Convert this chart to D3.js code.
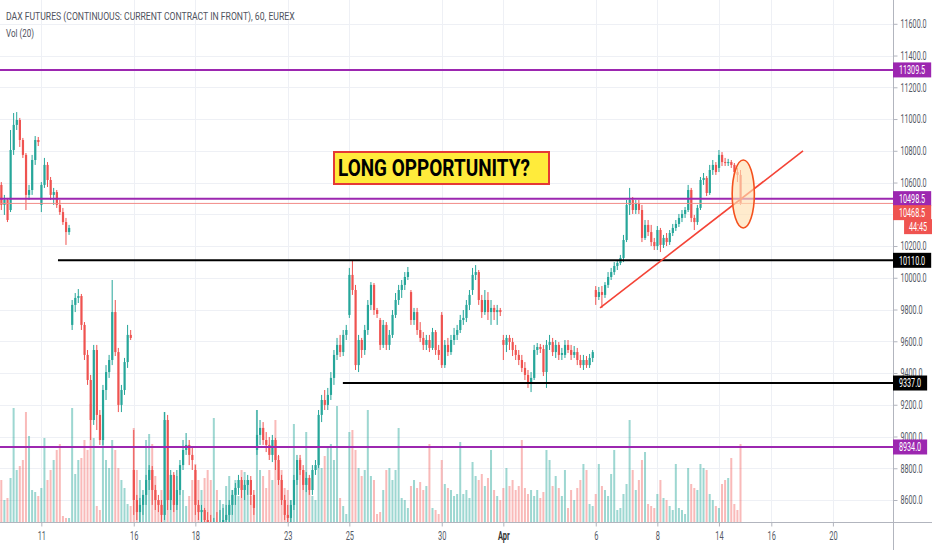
<!DOCTYPE html>
<html><head><meta charset="utf-8">
<script src="https://cdn.jsdelivr.net/npm/d3@7"></script>
<style>
body{margin:0;background:#fff;}
svg{display:block;}
text{font-family:Roboto,"Liberation Sans",Arial,sans-serif;}
</style></head>
<body><svg id="c" width="932" height="550"></svg>
<script>
// ---------- DATA (bars) ----------
const openP=[10585,10459,10490,10427,10805,10963,10994,10868,10774,10522,
10553,10742,10868,10459,10585,10711,10616,10522,10540,10459,
10414,10351,10288,9703,9829,9873,9885,9703,9514,9356,
9104,9545,9136,8978,9293,9406,9482,9784,9532,9199,
9293,9469,9640,8789,8600,8524,8569,8632,8726,8789,
8663,8600,8569,8506,9104,8600,8758,8569,8663,8820,
8915,8947,8884,8789,8569,8524,8537,8474,8411,8348,
8411,8380,8443,8474,8506,8569,8632,8676,8726,8663,
8695,8726,8632,8915,9010,9054,8978,8947,8884,8978,
8852,8726,8600,8506,8487,8569,8726,8852,8789,8695,
8739,8663,8789,8820,9136,9230,9199,9262,9369,9514,
9577,9532,9640,9766,10018,9923,9450,9608,9545,9671,
9829,9955,9797,9734,9577,9703,9577,9640,9766,9860,
9923,9955,10005,9910,9734,9784,9671,9621,9577,9608,
9558,9658,9545,9766,9450,9577,9532,9608,9640,9671,
9734,9747,9829,9923,10018,10036,9860,9784,9860,9784,
9810,9784,9797,9608,9577,9621,9595,9545,9514,9482,
9432,9388,9343,9369,9545,9564,9551,9406,9577,9595,
9532,9577,9514,9514,9577,9545,9514,9532,9482,9450,
9482,9450,9495,9923,9879,9910,9892,9955,10005,10036,
10074,10093,10125,10238,10459,10490,10427,10471,10427,10251,
10333,10288,10225,10200,10301,10207,10251,10225,10282,10314,
10339,10377,10402,10427,10553,10377,10351,10440,10616,10629,
10534,10679,10711,10692,10774,10729,10723,10729,10711,10666,
10648];
const highP=[10603,10522,10503,10931,11038,11044,11007,10881,10786,10585,
10774,10893,10887,10603,10755,10729,10635,10566,10553,10490,
10440,10377,10333,9860,9904,9929,9898,9721,9545,9388,
9577,9577,9167,9325,9450,9514,9986,9860,9558,9325,
9495,9703,9671,9041,8632,8613,8663,8758,8820,8814,
8695,8632,8600,9154,9136,8789,8776,8789,8852,8978,
9022,8978,8928,8820,8600,8569,8550,8524,8506,8487,
8524,8537,8550,8569,8600,8663,8707,8758,8745,8726,
8758,8751,8663,9167,9104,9091,9028,8997,9010,8991,
8884,8758,8632,8569,8600,8758,8884,8884,8820,8776,
8758,8820,8852,9167,9262,9293,9306,9406,9545,9621,
9640,9671,9703,10062,10112,9955,9640,9621,9703,9860,
9973,9967,9810,9747,9734,9721,9671,9797,9904,9955,
9986,10036,10068,9923,9810,9810,9721,9658,9640,9640,
9684,9671,9577,9784,9608,9621,9640,9684,9703,9766,
9797,9860,9923,10062,10080,10049,9892,9923,9910,9860,
9829,9829,9810,9640,9640,9640,9621,9577,9545,9514,
9469,9419,9406,9577,9589,9583,9577,9608,9640,9621,
9608,9595,9558,9608,9608,9577,9570,9558,9514,9514,
9507,9520,9545,9948,9942,9948,9973,10036,10062,10099,
10112,10144,10270,10490,10566,10509,10490,10490,10459,10364,
10364,10333,10251,10326,10314,10270,10282,10301,10339,10364,
10402,10427,10446,10585,10566,10396,10459,10635,10660,10641,
10711,10742,10729,10805,10792,10755,10749,10742,10723,10692,
10679];
const lowP=[10427,10396,10351,10414,10774,10931,10824,10755,10427,10490,
10522,10711,10830,10414,10566,10572,10490,10459,10440,10396,
10333,10207,10270,9671,9784,9841,9671,9482,9325,8978,
9073,9041,8947,8947,9230,9369,9450,9507,9154,9154,
9262,9432,9608,8506,8474,8461,8506,8569,8663,8569,
8537,8524,8443,8474,8537,8537,8524,8537,8632,8789,
8884,8820,8789,8506,8474,8411,8380,8317,8285,8285,
8317,8317,8348,8348,8411,8506,8569,8632,8613,8600,
8632,8569,8506,8884,8947,8947,8902,8852,8839,8789,
8695,8569,8474,8411,8443,8537,8695,8758,8663,8650,
8632,8632,8758,8802,9091,9167,9167,9230,9325,9482,
9501,9507,9608,9747,9892,9419,9406,9495,9514,9640,
9797,9766,9747,9545,9558,9545,9545,9621,9747,9829,
9873,9923,9986,9703,9703,9640,9595,9545,9545,9532,
9545,9514,9482,9432,9432,9507,9514,9577,9608,9652,
9703,9721,9797,9892,9986,9829,9747,9766,9734,9703,
9734,9703,9759,9482,9532,9545,9507,9482,9450,9406,
9356,9306,9280,9356,9514,9526,9381,9306,9545,9507,
9495,9482,9482,9495,9526,9482,9495,9450,9432,9419,
9432,9432,9469,9829,9860,9810,9873,9936,9986,10018,
10049,10080,10099,10225,10396,10402,10402,10402,10225,10238,
10263,10200,10175,10175,10162,10188,10200,10207,10263,10295,
10320,10351,10377,10414,10351,10301,10333,10427,10585,10515,
10522,10648,10648,10666,10704,10704,10704,10692,10648,10603,
10460];
const closeP=[10459,10490,10364,10805,10963,10994,10868,10774,10522,10553,
10742,10868,10855,10585,10711,10616,10522,10540,10459,10414,
10351,10288,10314,9829,9873,9885,9703,9514,9356,9104,
9545,9136,8978,9293,9406,9482,9784,9532,9199,9293,
9469,9640,9621,8600,8524,8569,8632,8726,8789,8663,
8600,8569,8506,9104,8600,8758,8569,8663,8820,8915,
8947,8884,8852,8569,8524,8537,8474,8411,8348,8411,
8380,8443,8474,8506,8569,8632,8676,8726,8663,8695,
8726,8632,8550,9010,9054,8978,8947,8884,8978,8852,
8726,8600,8506,8487,8569,8726,8852,8789,8695,8739,
8663,8789,8820,9136,9230,9199,9262,9369,9514,9577,
9532,9640,9671,10018,9923,9450,9608,9545,9671,9829,
9955,9797,9772,9577,9703,9577,9640,9766,9860,9923,
9955,10005,10036,9734,9784,9671,9621,9577,9608,9558,
9658,9545,9514,9450,9577,9532,9608,9640,9671,9734,
9747,9829,9892,10018,10036,9860,9784,9860,9784,9810,
9784,9797,9784,9577,9621,9595,9545,9514,9482,9432,
9388,9343,9369,9545,9564,9551,9406,9577,9595,9532,
9577,9514,9526,9577,9545,9514,9532,9482,9450,9482,
9450,9495,9532,9879,9910,9892,9955,10005,10036,10074,
10093,10125,10238,10459,10490,10427,10471,10427,10251,10333,
10288,10225,10200,10301,10207,10251,10225,10282,10314,10339,
10377,10402,10427,10553,10377,10351,10440,10616,10629,10534,
10679,10711,10666,10774,10729,10723,10729,10711,10666,10648,
10468.5];
const volume=[21,11,12,22,57,26,28,31,55,43,
16,15,13,17,42,21,26,31,36,39,
3,2,2,57,24,31,32,41,36,59,
42,8,6,49,31,27,41,36,27,21,
17,9,8,47,26,21,11,41,44,39,
23,11,16,55,26,16,11,23,26,16,
8,13,21,29,21,16,22,26,21,52,
16,11,9,18,23,16,21,13,26,25,
21,13,9,56,26,23,17,26,21,51,
33,26,17,16,11,49,31,32,26,45,
16,13,11,41,27,33,38,39,31,58,
12,8,4,45,46,36,27,23,26,56,
23,21,4,5,16,26,27,21,26,47,
12,11,7,18,21,17,20,16,18,39,
7,6,4,31,19,17,16,13,14,40,
14,16,12,30,23,21,24,18,22,36,
16,13,11,17,27,18,21,16,18,41,
17,14,16,13,16,12,15,36,31,18,
23,17,13,26,7,16,11,17,21,29,
26,9,8,14,29,18,16,13,24,36,
6,7,14,19,51,26,16,21,31,35,
9,8,7,14,21,12,11,8,6,29,
7,6,4,27,19,17,16,29,27,26,
14,11,8,7,19,21,22,32,9,6,
39];

const dateTickLabels=["11","16","18","23","25","30","Apr","6","8","14","16","20"];
const dateTickIndex=[13,43,63,93,113,143,163,193,213,233,250,270];
const priceTicks=[8600,8800,9000,9200,9400,9600,9800,10000,10200,10400,10600,10800,11000,11200,11400,11600];

const purpleLevels=[11309.5,10498.5,8934.0];
const blackLevels=[10110.0,9337.0];
const blackLevelStart=[18.4,110.9];      // bar index where each black line starts
const lastPrice=10468.5;
const countdown="44:45";
const trendLine=[[194.4,9810],[260.3,10799]];   // [bar index, price]
const ellipseAt={i:240.9,price:10528,halfBars:3.6,halfPrice:214};
const calloutText="LONG OPPORTUNITY?";
const titleText="DAX FUTURES (CONTINUOUS: CURRENT CONTRACT IN FRONT), 60, EUREX";
const volText="Vol (20)";

// ---------- LAYOUT ----------
const W=932,H=550,plotR=893,plotB=522;
const x=d3.scaleLinear().domain([0,240]).range([1.3,740.5]);
const y=d3.scaleLinear().domain([8600,11600]).range([500,23.8]);
const yv=d3.scaleLinear().domain([0,60]).range([522,402]);
const UP="#26a69a",DN="#ef5350";
const svg=d3.select("#c");

// horizontally squeeze a text around its anchor point (keeps real bbox small)
function squeeze(sel,f){
  sel.each(function(){
    const t=d3.select(this);
    const tx=+t.attr("x")||0, ty=+t.attr("y")||0;
    t.attr("x",0).attr("y",0).attr("transform",`translate(${tx},${ty}) scale(${f},1)`);
  });
}
function squeezeTo(sel,target){
  sel.each(function(){
    const w=this.getComputedTextLength();
    squeeze(d3.select(this),target/w);
  });
}

svg.append("defs").append("clipPath").attr("id","plot")
  .append("rect").attr("x",0).attr("y",0).attr("width",plotR).attr("height",plotB);

// grid
const grid=svg.append("g").attr("clip-path","url(#plot)");
grid.selectAll("line.h").data(priceTicks).join("line")
  .attr("x1",0).attr("x2",plotR).attr("y1",d=>Math.round(y(d))+0.5).attr("y2",d=>Math.round(y(d))+0.5)
  .attr("stroke","#eef0f5").attr("stroke-width",1);
grid.selectAll("line.v").data(dateTickIndex).join("line")
  .attr("y1",0).attr("y2",plotB).attr("x1",d=>Math.round(x(d))+0.5).attr("x2",d=>Math.round(x(d))+0.5)
  .attr("stroke","#eef0f5").attr("stroke-width",1);

const idx=d3.range(closeP.length);
const isUp=i=>closeP[i]>=openP[i];
const plot=svg.append("g").attr("clip-path","url(#plot)");

// volume
plot.append("g").selectAll("rect").data(idx).join("rect")
  .attr("x",i=>x(i)-1).attr("width",2)
  .attr("y",i=>yv(volume[i])).attr("height",i=>yv(0)-yv(volume[i]))
  .attr("fill",i=>isUp(i)?"rgba(38,166,154,0.45)":"rgba(239,83,80,0.4)");

// candles
const cg=plot.append("g");
cg.selectAll("rect.w").data(idx).join("rect")
  .attr("x",i=>x(i)-0.5).attr("width",1)
  .attr("y",i=>y(highP[i])).attr("height",i=>Math.max(1,y(lowP[i])-y(highP[i])))
  .attr("fill",i=>isUp(i)?UP:DN);
cg.selectAll("rect.b").data(idx).join("rect")
  .attr("x",i=>x(i)-1).attr("width",2.2)
  .attr("y",i=>y(Math.max(openP[i],closeP[i])))
  .attr("height",i=>Math.max(1,Math.abs(y(openP[i])-y(closeP[i]))))
  .attr("fill",i=>isUp(i)?UP:DN);

// levels
const lv=svg.append("g").attr("clip-path","url(#plot)");
lv.append("line").attr("x1",0).attr("x2",plotR)
  .attr("y1",y(lastPrice)).attr("y2",y(lastPrice))
  .attr("stroke","#f28b88").attr("stroke-width",1);
lv.selectAll("line.p").data(purpleLevels).join("line")
  .attr("x1",0).attr("x2",plotR).attr("y1",d=>y(d)).attr("y2",d=>y(d))
  .attr("stroke","#9c27b0").attr("stroke-width",2);
lv.selectAll("line.k").data(blackLevels).join("line")
  .attr("x1",(d,k)=>x(blackLevelStart[k])).attr("x2",plotR).attr("y1",d=>y(d)).attr("y2",d=>y(d))
  .attr("stroke","#000").attr("stroke-width",2);

// trend line
lv.append("line")
  .attr("x1",x(trendLine[0][0])).attr("y1",y(trendLine[0][1]))
  .attr("x2",x(trendLine[1][0])).attr("y2",y(trendLine[1][1]))
  .attr("stroke","#f44336").attr("stroke-width",1.6);

// ellipse
lv.append("ellipse")
  .attr("cx",x(ellipseAt.i)).attr("cy",y(ellipseAt.price))
  .attr("rx",x(ellipseAt.halfBars)-x(0)).attr("ry",y(ellipseAt.price-ellipseAt.halfPrice)-y(ellipseAt.price))
  .attr("fill","rgba(255,224,178,0.65)").attr("stroke","#f4511e").attr("stroke-width",1.6);

// callout box
const cb=svg.append("g");
cb.append("rect").attr("x",334).attr("y",152).attr("width",215).attr("height",32)
  .attr("fill","#ffeb3b").attr("stroke","#e53935").attr("stroke-width",2);
const ct=cb.append("text").attr("x",338).attr("y",175.5).text(calloutText)
  .attr("font-size",24).attr("font-weight","bold").attr("fill","#000");
squeezeTo(ct,192);

// axes lines
svg.append("line").attr("x1",plotR+0.5).attr("x2",plotR+0.5).attr("y1",0).attr("y2",H)
  .attr("stroke","#b2b5be").attr("stroke-width",1);
svg.append("line").attr("x1",0).attr("x2",W).attr("y1",plotB+0.5).attr("y2",plotB+0.5)
  .attr("stroke","#b2b5be").attr("stroke-width",1);

// right axis
const ra=svg.append("g").attr("transform",`translate(${plotR+0.5},0)`)
  .call(d3.axisRight(y).tickValues(priceTicks).tickSize(4).tickPadding(3).tickFormat(d3.format(".1f")));
ra.select(".domain").remove();
ra.selectAll("line").attr("stroke","#b2b5be");
ra.selectAll("text").attr("font-size",12).attr("fill","#555a66").attr("font-family",null);
squeeze(ra.selectAll("text"),0.6);

// bottom axis
const ba=svg.append("g").attr("transform",`translate(0,${plotB+0.5})`)
  .call(d3.axisBottom(x).tickValues(dateTickIndex).tickSize(4).tickFormat((d,k)=>dateTickLabels[k]));
ba.select(".domain").remove();
ba.selectAll("line").attr("stroke","#b2b5be");
ba.selectAll("text").attr("font-size",12).attr("font-family",null)
  .attr("y",9).attr("font-weight",(d,k)=>dateTickLabels[k]==="Apr"?"bold":null)
  .attr("fill",(d,k)=>dateTickLabels[k]==="Apr"?"#333":"#555a66");
squeeze(ba.selectAll("text"),0.62);

// price labels on axis
function axisBox(cy,fill,txt,rightAlign){
  const g=svg.append("g");
  const t=g.append("text").attr("dy","0.35em").text(txt)
    .attr("font-size",12).attr("fill","#fff");
  const tw=t.node().getComputedTextLength()*0.6;
  const bw=tw+12;
  const bx=rightAlign?W-bw+2:plotR;
  g.insert("rect","text").attr("x",bx).attr("y",cy-7.5).attr("width",bw).attr("height",15).attr("fill",fill);
  t.attr("x",bx+(rightAlign?5:6)).attr("y",cy);
  squeeze(t,0.6);
}
purpleLevels.forEach(v=>axisBox(y(v),"#9c27b0",d3.format(".1f")(v)));
blackLevels.forEach(v=>axisBox(y(v),"#000",d3.format(".1f")(v)));
const lastY=Math.max(y(lastPrice),y(purpleLevels[1])+14);
axisBox(lastY,"#ef5350",d3.format(".1f")(lastPrice));
axisBox(lastY+14,"#ef5350",countdown,true);

// titles
const t1=svg.append("text").attr("x",6).attr("y",20).text(titleText)
  .attr("font-size",11.5).attr("fill","#50535e");
squeezeTo(t1,289);
const t2=svg.append("text").attr("x",6).attr("y",36.5).text(volText)
  .attr("font-size",11.5).attr("fill","#50535e");
squeezeTo(t2,28);
</script></body></html>
